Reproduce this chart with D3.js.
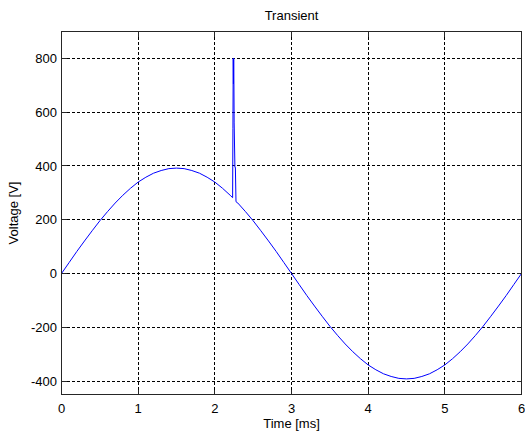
<!DOCTYPE html>
<html>
<head>
<meta charset="utf-8">
<script src="https://cdn.jsdelivr.net/npm/d3@7/dist/d3.min.js"></script>
<style>
    body { margin: 0; background: white; }
    text { font-family: 'Liberation Sans', Arial, sans-serif; }
</style>
</head>
<body>
<svg id="fig_transient"></svg>
<script>
'use strict';

// values (time in ms, voltage in V)
var time_ms = [
    0.0, 0.1, 0.2, 0.3, 0.4, 0.5, 0.6, 0.7, 0.8, 0.9,
    1.0, 1.1, 1.2, 1.3, 1.4, 1.5, 1.6, 1.7, 1.8, 1.9,
    2.0, 2.1, 2.2, 2.232,
    // the transient
    2.236, 2.240, 2.243, 2.246, 2.249, 2.252, 2.262, 2.268, 2.276,
    2.3, 2.4, 2.5, 2.6, 2.7, 2.8, 2.9,
    3.0, 3.1, 3.2, 3.3, 3.4, 3.5, 3.6, 3.7, 3.8, 3.9,
    4.0, 4.1, 4.2, 4.3, 4.4, 4.5, 4.6, 4.7, 4.8, 4.9,
    5.0, 5.1, 5.2, 5.3, 5.4, 5.5, 5.6, 5.7, 5.8, 5.9, 6.0
];
var voltage = [
    0, 41, 82, 121, 159, 196, 230, 262, 291, 317,
    340, 358, 373, 383, 390, 392, 390, 383, 373, 358,
    340, 317, 291, 282,
    540, 800, 705, 800, 705, 560, 395, 395, 267,
    262, 230, 196, 159, 121, 82, 41,
    0, -41, -82, -121, -159, -196, -230, -262, -291, -317,
    -340, -358, -373, -383, -390, -392, -390, -383, -373, -358,
    -340, -317, -291, -262, -230, -196, -159, -121, -82, -41, 0
];
var x_ticks = [0, 1, 2, 3, 4, 5, 6];
var y_ticks = [-400, -200, 0, 200, 400, 600, 800];
var x_domain = [0, 6];
var y_domain = [-450, 900];

var fig_transient = {
    plot_id: '#fig_transient',
    svg: null,
    width: 525,
    height: 432,
    // plot box
    left: 61.5,
    right: 521.5,
    top: 31.5,
    bottom: 394.5,
    tick_len: 5,
    font_size: 13,
    color_line: '#0000ff',
    color_box: '#262626',

    init: function() {
        this.svg = d3.select(this.plot_id)
            .attr('width', this.width)
            .attr('height', this.height);
        this.x = d3.scaleLinear().domain(x_domain).range([this.left, this.right]);
        this.y = d3.scaleLinear().domain(y_domain).range([this.bottom, this.top]);
    },

    draw: function() {
        this.init();
        this._draw_grid();
        this._draw_line();
        this._draw_box();
        this._draw_labels();
    },

    _draw_grid: function() {
        var self = this;
        var g = this.svg.append('g').attr('class', 'grid')
            .attr('stroke', 'black')
            .attr('stroke-dasharray', '3,2')
            .attr('shape-rendering', 'crispEdges');
        g.selectAll('line.gx')
            .data(x_ticks)
            .enter()
            .append('line')
            .attr('x1', function(d) { return self.x(d); })
            .attr('x2', function(d) { return self.x(d); })
            .attr('y1', this.top)
            .attr('y2', this.bottom);
        g.selectAll('line.gy')
            .data(y_ticks)
            .enter()
            .append('line')
            .attr('x1', this.left)
            .attr('x2', this.right)
            .attr('y1', function(d) { return self.y(d); })
            .attr('y2', function(d) { return self.y(d); });
    },

    _draw_line: function() {
        var self = this;
        var pts = time_ms.map(function(t, i) { return [t, voltage[i]]; });
        var line = d3.line()
            .x(function(d) { return self.x(d[0]); })
            .y(function(d) { return self.y(d[1]); });
        this.svg.append('path')
            .datum(pts)
            .attr('d', line)
            .attr('fill', 'none')
            .attr('stroke', this.color_line)
            .attr('stroke-width', 1);
    },

    _draw_box: function() {
        var self = this;
        var g = this.svg.append('g').attr('class', 'box')
            .attr('stroke', this.color_box)
            .attr('shape-rendering', 'crispEdges');
        g.append('rect')
            .attr('x', this.left)
            .attr('y', this.top)
            .attr('width', this.right - this.left)
            .attr('height', this.bottom - this.top)
            .attr('fill', 'none');

        // inward ticks on all four sides
        x_ticks.forEach(function(d) {
            var xp = self.x(d);
            g.append('line').attr('x1', xp).attr('x2', xp)
                .attr('y1', self.bottom).attr('y2', self.bottom - self.tick_len);
            g.append('line').attr('x1', xp).attr('x2', xp)
                .attr('y1', self.top).attr('y2', self.top + self.tick_len);
        });
        y_ticks.forEach(function(d) {
            var yp = self.y(d);
            g.append('line').attr('x1', self.left).attr('x2', self.left + self.tick_len)
                .attr('y1', yp).attr('y2', yp);
            g.append('line').attr('x1', self.right).attr('x2', self.right - self.tick_len)
                .attr('y1', yp).attr('y2', yp);
        });
    },

    _draw_labels: function() {
        var self = this;
        var g = this.svg.append('g').attr('class', 'labels')
            .attr('font-size', this.font_size)
            .attr('fill', 'black');

        g.selectAll('text.xt')
            .data(x_ticks)
            .enter()
            .append('text')
            .attr('x', function(d) { return self.x(d); })
            .attr('y', 413)
            .attr('text-anchor', 'middle')
            .text(function(d) { return d; });

        g.selectAll('text.yt')
            .data(y_ticks)
            .enter()
            .append('text')
            .attr('x', this.left - 4.5)
            .attr('y', function(d) { return self.y(d); })
            .attr('dy', '0.36em')
            .attr('text-anchor', 'end')
            .text(function(d) { return d; });

        var cx = (this.left + this.right) / 2;
        var cy = (this.top + this.bottom) / 2;
        g.append('text')
            .attr('x', cx)
            .attr('y', 20)
            .attr('text-anchor', 'middle')
            .text('Transient');
        g.append('text')
            .attr('x', cx)
            .attr('y', 428)
            .attr('text-anchor', 'middle')
            .text('Time [ms]');
        g.append('text')
            .attr('x', 18)
            .attr('y', cy)
            .attr('text-anchor', 'middle')
            .attr('transform', 'rotate(-90, 18, ' + cy + ')')
            .text('Voltage [V]');
    }
};

fig_transient.draw();
</script>
</body>
</html>
